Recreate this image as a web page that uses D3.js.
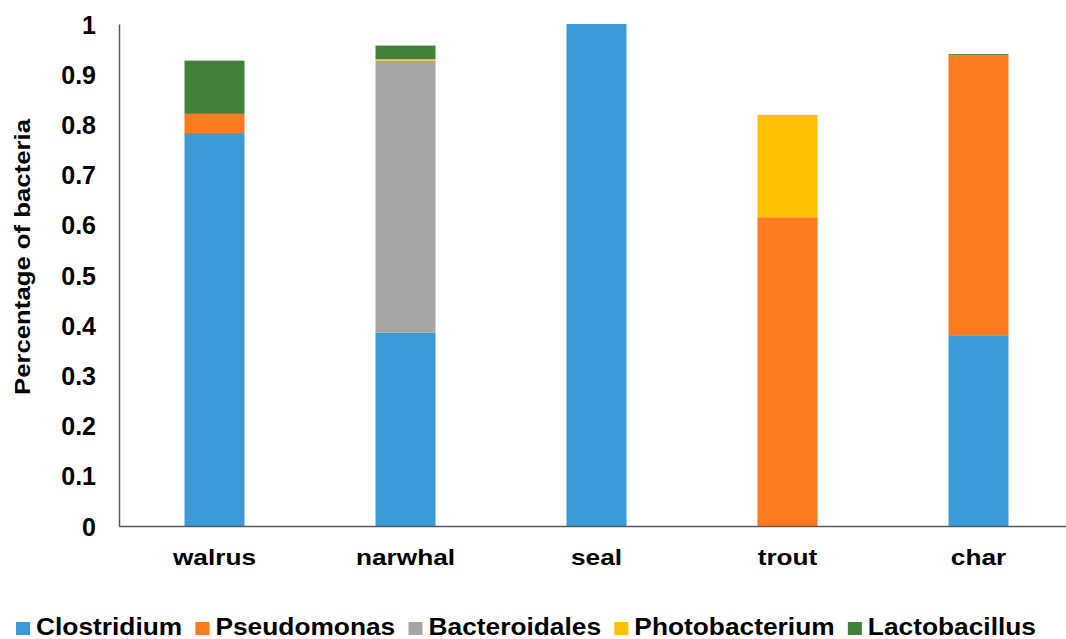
<!DOCTYPE html>
<html>
<head>
<meta charset="utf-8">
<script src="https://cdn.jsdelivr.net/npm/d3@7"></script>
<style>
  body { margin: 0; background: #fff; }
  text { font-family: "Liberation Sans", Arial, sans-serif; font-weight: bold; fill: #000; }
</style>
</head>
<body>
<div id="chart"></div>
<script>
// data
const animals = ["walrus", "narwhal", "seal", "trout", "char"];
const bacteria = ["Clostridium", "Pseudomonas", "Bacteroidales", "Photobacterium", "Lactobacillus"];
const clostridium    = [0.783, 0.385, 1.000, 0.000, 0.380];
const pseudomonas    = [0.038, 0.000, 0.000, 0.615, 0.558];
const bacteroidales  = [0.000, 0.542, 0.000, 0.000, 0.000];
const photobacterium = [0.000, 0.003, 0.000, 0.204, 0.000];
const lactobacillus  = [0.106, 0.027, 0.000, 0.000, 0.002];
const yTicks = [0, 0.1, 0.2, 0.3, 0.4, 0.5, 0.6, 0.7, 0.8, 0.9, 1];
const colors = ["#3a9bd6", "#fe7a1f", "#a5a5a5", "#ffc000", "#43803a"];

const width = 1066, height = 639;
const margin = {top: 24, left: 119, bottom: 113};

const svg = d3.select("#chart").append("svg")
    .attr("width", width)
    .attr("height", height);

// build rows for the stack
const series = [clostridium, pseudomonas, bacteroidales, photobacterium, lactobacillus];
const rows = animals.map((a, i) => {
    let r = {animal: a};
    bacteria.forEach((b, j) => r[b] = series[j][i]);
    return r;
});
const stacked = d3.stack().keys(bacteria)(rows);

// x band scale, last band runs past the right edge like the original
let x = d3.scaleBand()
    .domain(animals)
    .range([margin.left, margin.left + 955])
    .paddingInner(0.686)
    .paddingOuter(0.343);

let y = d3.scaleLinear()
    .domain([0, 1])
    .range([height - margin.bottom, margin.top]);

let color = d3.scaleOrdinal().domain(bacteria).range(colors);

// bars
svg.append("g").selectAll("g")
    .data(stacked)
    .join("g")
    .attr("fill", d => color(d.key))
    .selectAll("rect")
    .data(d => d.filter(p => p[1] - p[0] > 0))
    .join("rect")
    .attr("x", d => x(d.data.animal))
    .attr("y", d => y(d[1]))
    .attr("width", x.bandwidth())
    .attr("height", d => y(d[0]) - y(d[1]));

// y axis
let yAxis = svg.append("g")
    .attr("transform", `translate(${margin.left},0)`)
    .call(d3.axisLeft(y).tickValues(yTicks).tickSize(0).tickPadding(23).tickFormat(d3.format("")));
yAxis.select(".domain").attr("stroke", "#595959").attr("stroke-width", 1.5);
yAxis.selectAll("text").style("font-size", "25px").attr("dy", "0.36em");

// x axis (labels are a bit wider than tall in the original)
let xAxis = svg.append("g")
    .attr("transform", `translate(0,${y(0)})`)
    .call(d3.axisBottom(x).tickSize(0).tickPadding(24));
xAxis.select(".domain").attr("stroke", "#595959").attr("stroke-width", 1.5);
xAxis.selectAll("text").style("font-size", "21.5px").attr("transform", "scale(1.22,1)");

// y title
svg.append("text")
    .attr("transform", `translate(30, 257) rotate(-90) scale(1.17,1)`)
    .style("text-anchor", "middle")
    .style("font-size", "22px")
    .text("Percentage of bacteria");

// legend, spread between the left edge and ~1036px
let legendLeft = 16, legendRight = 1036, stretch = 1.12;
let legend = svg.append("g").attr("transform", "translate(0, 622)");
let items = bacteria.map(b => {
    let item = legend.append("g");
    item.append("rect").attr("width", 14).attr("height", 13).attr("fill", color(b));
    let t = item.append("g").attr("transform", `translate(20,13) scale(${stretch},1)`)
        .append("text")
        .style("font-size", "23.5px")
        .text(b);
    return {item: item, w: 20 + t.node().getComputedTextLength() * stretch};
});
let gap = (legendRight - legendLeft - d3.sum(items, d => d.w)) / (items.length - 1);
let lx = legendLeft;
items.forEach(d => {
    d.item.attr("transform", `translate(${lx},0)`);
    lx += d.w + gap;
});
</script>
</body>
</html>
